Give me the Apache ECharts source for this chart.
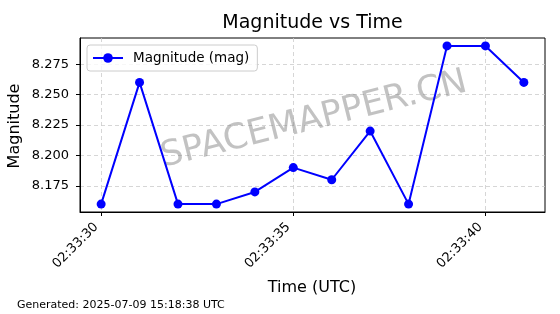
<!DOCTYPE html>
<html>
<head>
<meta charset="utf-8">
<script src="https://cdn.jsdelivr.net/npm/echarts@6/dist/echarts.min.js"></script>
<style>
html,body{margin:0;padding:0;background:#fff;}
#chart{width:560px;height:314px;}
</style>
</head>
<body>
<div id="chart"></div>
<script>
// ---- data ----
var times = ['02:33:30','02:33:31','02:33:32','02:33:33','02:33:34','02:33:35','02:33:36','02:33:37','02:33:38','02:33:39','02:33:40','02:33:41'];
var magnitudes = [8.16, 8.26, 8.16, 8.16, 8.17, 8.19, 8.18, 8.22, 8.16, 8.29, 8.29, 8.26];
var xTickLabels = ['02:33:30','02:33:35','02:33:40'];
var yTickLabels = ['8.175','8.200','8.225','8.250','8.275'];
var seriesName = 'Magnitude (mag)';
var titleText = 'Magnitude vs Time';
var xAxisTitle = 'Time (UTC)';
var yAxisTitle = 'Magnitude';
var footerText = 'Generated: 2025-07-09 15:18:38 UTC';
var watermarkText = 'SPACEMAPPER.CN';

function toSec(t){ var p = t.split(':'); return (+p[0])*3600 + (+p[1])*60 + (+p[2]); }
function fromSec(s){ s = Math.round(s); var h=Math.floor(s/3600), m=Math.floor((s%3600)/60), x=s%60;
  function z(n){return (n<10?'0':'')+n;} return z(h)+':'+z(m)+':'+z(x); }

var xs = times.map(toSec);
var pts = xs.map(function(x,i){ return [x, magnitudes[i]]; });
var xMinD = Math.min.apply(null, xs), xMaxD = Math.max.apply(null, xs);
var yMinD = Math.min.apply(null, magnitudes), yMaxD = Math.max.apply(null, magnitudes);
var xPad = (xMaxD - xMinD) * 0.05, yPad = (yMaxD - yMinD) * 0.05;
var xTickVals = xTickLabels.map(toSec);
var yTickVals = yTickLabels.map(Number);

var FONT = 'DejaVu Sans';
var chart = echarts.init(document.getElementById('chart'), null, {renderer:'canvas'});
chart.setOption({
  animation: false,
  backgroundColor: '#ffffff',
  grid: { left: 80, right: 15, top: 38, bottom: 102, show: true, borderColor: '#000', borderWidth: 1, backgroundColor: 'transparent' },
  legend: {
    left: 87, top: 45, padding: [6, 8, 6, 5], itemWidth: 30, itemHeight: 12,
    backgroundColor: 'rgba(255,255,255,0.8)', borderColor: '#cccccc', borderWidth: 1, borderRadius: 3,
    textStyle: { fontFamily: FONT, fontSize: 13.5, color: '#000', padding: [0,0,0,5] },
    data: [seriesName]
  },
  xAxis: {
    type: 'value', min: xMinD - xPad, max: xMaxD + xPad,
    axisLine: { show: true, lineStyle: { color: '#000', width: 1 } },
    axisTick: { show: true, length: 4, lineStyle: { color: '#000' }, customValues: xTickVals },
    axisLabel: { show: true, rotate: 45, margin: 8, padding: [0, 7, 0, 0], fontFamily: FONT, fontSize: 13, color: '#000',
      customValues: xTickVals, formatter: function(v){ return fromSec(v); } },
    splitLine: { show: true, lineStyle: { color: '#cccccc', type: [4, 3], width: 0.8 } }
  },
  yAxis: {
    type: 'value', min: yMinD - yPad, max: yMaxD + yPad,
    axisLine: { show: true, lineStyle: { color: '#000', width: 1 } },
    axisTick: { show: true, length: 4, lineStyle: { color: '#000' }, customValues: yTickVals },
    axisLabel: { show: true, margin: 11, fontFamily: FONT, fontSize: 13, color: '#000',
      customValues: yTickVals, formatter: function(v){ return v.toFixed(3); } },
    splitLine: { show: true, lineStyle: { color: '#cccccc', type: [4, 3], width: 0.8 } }
  },
  series: [{
    name: seriesName, type: 'line', data: pts,
    symbol: 'circle', symbolSize: 9,
    lineStyle: { color: '#0000ff', width: 2 },
    itemStyle: { color: '#0000ff' },
    z: 3
  }],
  graphic: [
    { type: 'text', x: 312.5, y: 23, z: 10, style: { text: titleText, font: '19px "DejaVu Sans"', fill: '#000', align: 'center', verticalAlign: 'middle' } },
    { type: 'text', x: 312, y: 288, z: 10, style: { text: xAxisTitle, font: '16px "DejaVu Sans"', fill: '#000', align: 'center', verticalAlign: 'middle' } },
    { type: 'text', x: 14.5, y: 126, rotation: Math.PI/2, z: 10, style: { text: yAxisTitle, font: '16px "DejaVu Sans"', fill: '#000', align: 'center', verticalAlign: 'middle' } },
    { type: 'text', x: 17, y: 305, z: 10, style: { text: footerText, font: '11px "DejaVu Sans"', fill: '#000', align: 'left', verticalAlign: 'middle' } },
    { type: 'text', x: 314, y: 120, rotation: 14*Math.PI/180, z: 1, style: { text: watermarkText, font: '35px "DejaVu Sans"', fill: 'rgba(128,128,128,0.48)', align: 'center', verticalAlign: 'middle' } }
  ]
});
</script>
</body>
</html>
